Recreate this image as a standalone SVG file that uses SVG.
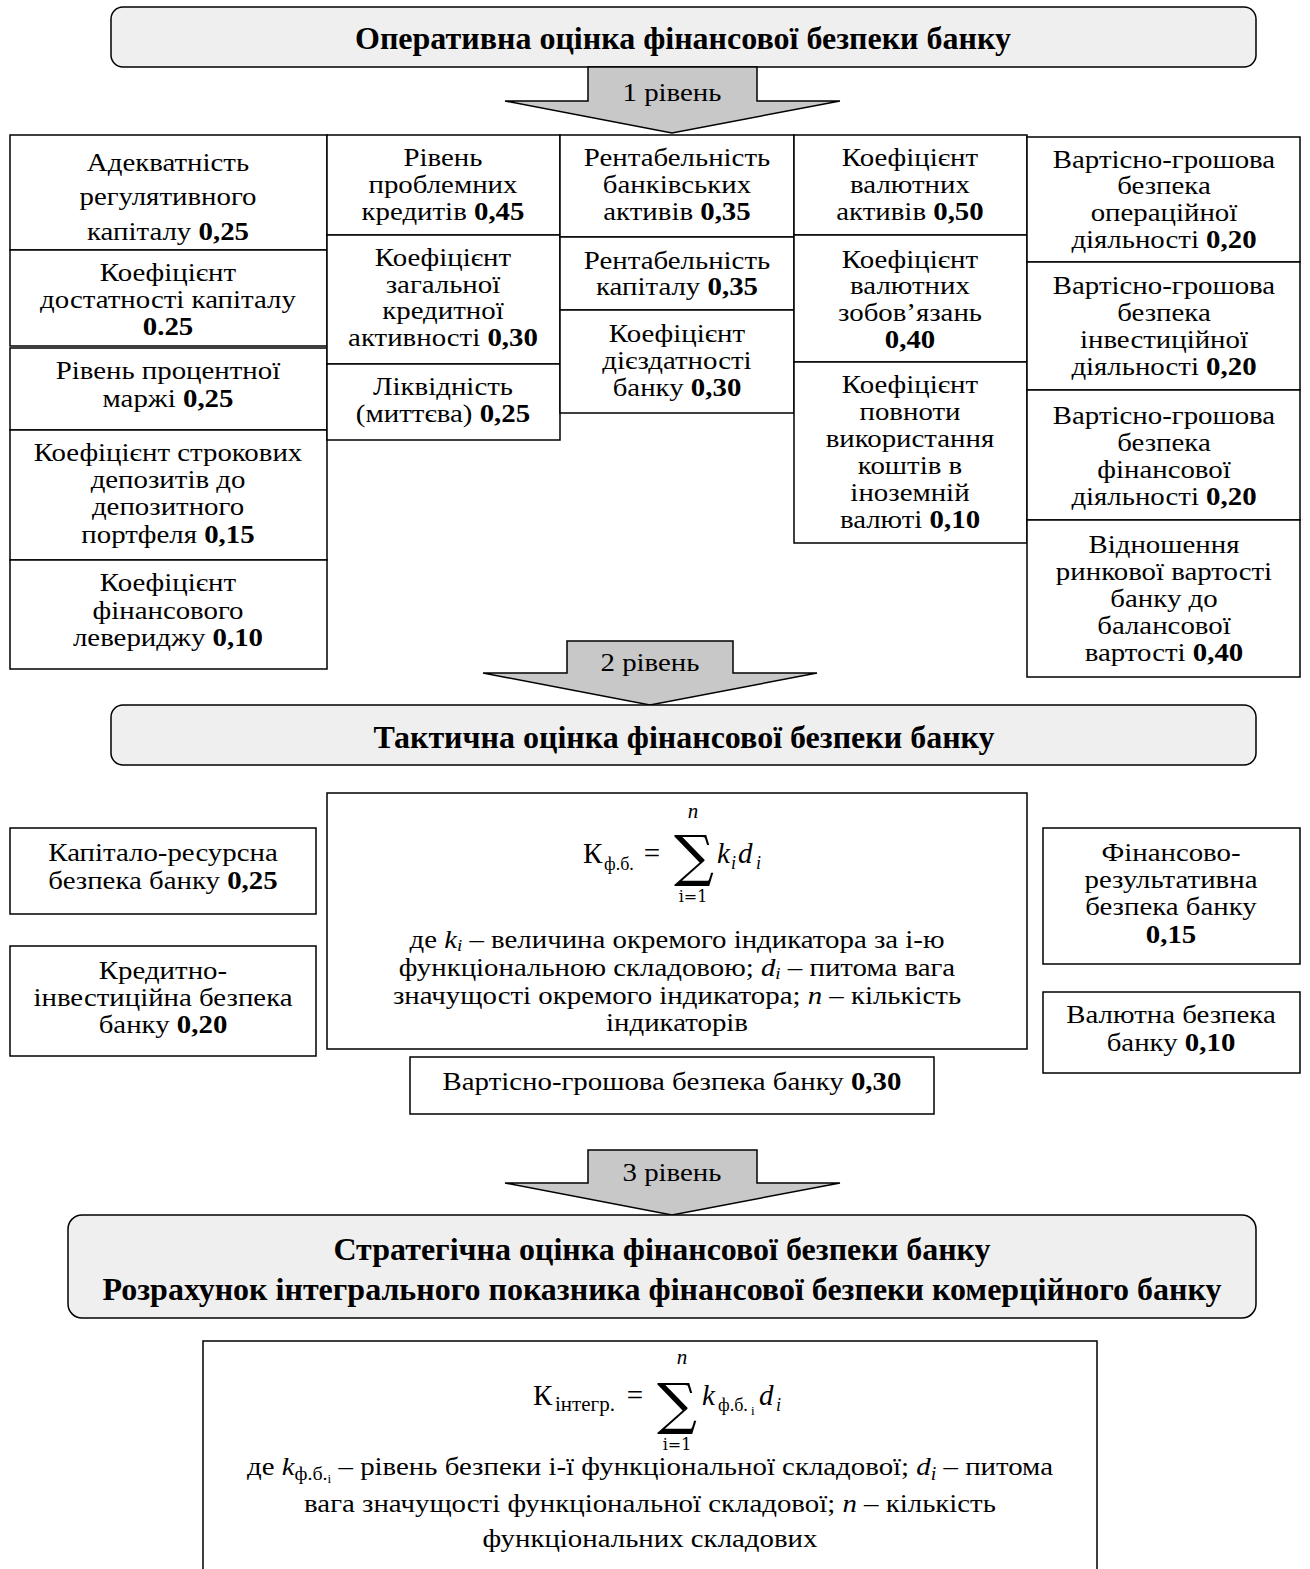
<svg xmlns="http://www.w3.org/2000/svg" width="1310" height="1569" viewBox="0 0 1310 1569">
<style>
text{font-family:"Liberation Serif","Times New Roman",serif;fill:#000;text-anchor:middle}
.t{font-size:26px;transform-box:fill-box;transform-origin:center;transform:scaleX(1.11)}
.f{font-size:29px}
.b{font-weight:bold}
.h{font-size:32px;font-weight:bold}
.box{fill:#fff;stroke:#000;stroke-width:1.5}
.rb{fill:#efefef;stroke:#000;stroke-width:1.5}
.ar{fill:#c8c8c8;stroke:#000;stroke-width:1.5}
.m{font-style:italic}
.s{font-size:18px}
.ss{font-size:17px}
.st{text-anchor:start}
.sig{font-family:"DejaVu Serif",serif;font-size:56px}
.sm{font-family:"DejaVu Serif",serif;font-size:16px}
</style>
<rect width="1310" height="1569" fill="#fff"/>

<g id="operational">
<rect class="rb" x="111" y="7" width="1145" height="60" rx="12"/>
<text class="h" x="683" y="49">Оперативна оцінка фінансової безпеки банку</text>
</g>

<g id="connectors">
<path class="ar" d="M588,67 L757,67 L757,101 L840,101 L672,133 L505,101 L588,101 Z"/>
<text class="t" x="672" y="101">1 рівень</text>
<path class="ar" d="M567,641 L733,641 L733,673 L817,673 L650,705 L483,673 L567,673 Z"/>
<text class="t" x="650" y="671">2 рівень</text>
<path class="ar" d="M588,1150 L757,1150 L757,1183 L840,1183 L672,1215 L505,1183 L588,1183 Z"/>
<text class="t" x="672" y="1181">3 рівень</text>
</g>

<!-- Column 1 -->
<g id="c1a"><rect class="box" x="10" y="135" width="317" height="115"/>
<text class="t" x="168" y="171">Адекватність</text><text class="t" x="168" y="205">регулятивного</text><text class="t" x="168" y="240">капіталу <tspan class="b">0,25</tspan></text></g>
<g id="c1b"><rect class="box" x="10" y="250" width="317" height="96"/>
<text class="t" x="168" y="281">Коефіцієнт</text><text class="t" x="168" y="308">достатності капіталу</text><text class="t b" x="168" y="335">0.25</text></g>
<g id="c1c"><rect class="box" x="10" y="348" width="317" height="82"/>
<text class="t" x="168" y="379">Рівень процентної</text><text class="t" x="168" y="407">маржі <tspan class="b">0,25</tspan></text></g>
<g id="c1d"><rect class="box" x="10" y="430" width="317" height="130"/>
<text class="t" x="168" y="461">Коефіцієнт строкових</text><text class="t" x="168" y="488">депозитів до</text><text class="t" x="168" y="515">депозитного</text><text class="t" x="168" y="543">портфеля <tspan class="b">0,15</tspan></text></g>
<g id="c1e"><rect class="box" x="10" y="560" width="317" height="109"/>
<text class="t" x="168" y="591">Коефіцієнт</text><text class="t" x="168" y="619">фінансового</text><text class="t" x="168" y="646">левериджу <tspan class="b">0,10</tspan></text></g>

<!-- Column 2 -->
<g id="c2a"><rect class="box" x="327" y="135" width="233" height="100"/>
<text class="t" x="443" y="166">Рівень</text><text class="t" x="443" y="193">проблемних</text><text class="t" x="443" y="220">кредитів <tspan class="b">0,45</tspan></text></g>
<g id="c2b"><rect class="box" x="327" y="235" width="233" height="129"/>
<text class="t" x="443" y="266">Коефіцієнт</text><text class="t" x="443" y="293">загальної</text><text class="t" x="443" y="319">кредитної</text><text class="t" x="443" y="346">активності <tspan class="b">0,30</tspan></text></g>
<g id="c2c"><rect class="box" x="327" y="364" width="233" height="76"/>
<text class="t" x="443" y="395">Ліквідність</text><text class="t" x="443" y="422">(миттєва) <tspan class="b">0,25</tspan></text></g>

<!-- Column 3 -->
<g id="c3a"><rect class="box" x="560" y="135" width="234" height="102"/>
<text class="t" x="677" y="166">Рентабельність</text><text class="t" x="677" y="193">банківських</text><text class="t" x="677" y="220">активів <tspan class="b">0,35</tspan></text></g>
<g id="c3b"><rect class="box" x="560" y="237" width="234" height="73"/>
<text class="t" x="677" y="269">Рентабельність</text><text class="t" x="677" y="295">капіталу  <tspan class="b">0,35</tspan></text></g>
<g id="c3c"><rect class="box" x="560" y="310" width="234" height="103"/>
<text class="t" x="677" y="342">Коефіцієнт</text><text class="t" x="677" y="369">дієздатності</text><text class="t" x="677" y="396">банку <tspan class="b">0,30</tspan></text></g>

<!-- Column 4 -->
<g id="c4a"><rect class="box" x="794" y="135" width="233" height="100"/>
<text class="t" x="910" y="166">Коефіцієнт</text><text class="t" x="910" y="193">валютних</text><text class="t" x="910" y="220">активів <tspan class="b">0,50</tspan></text></g>
<g id="c4b"><rect class="box" x="794" y="235" width="233" height="127"/>
<text class="t" x="910" y="268">Коефіцієнт</text><text class="t" x="910" y="294">валютних</text><text class="t" x="910" y="321">зобов’язань</text><text class="t b" x="910" y="348">0,40</text></g>
<g id="c4c"><rect class="box" x="794" y="362" width="233" height="181"/>
<text class="t" x="910" y="393">Коефіцієнт</text><text class="t" x="910" y="420">повноти</text><text class="t" x="910" y="447">використання</text><text class="t" x="910" y="474">коштів в</text><text class="t" x="910" y="501">іноземній</text><text class="t" x="910" y="528">валюті <tspan class="b">0,10</tspan></text></g>

<!-- Column 5 -->
<g id="c5a"><rect class="box" x="1027" y="137" width="273" height="125"/>
<text class="t" x="1164" y="168">Вартісно-грошова</text><text class="t" x="1164" y="194">безпека</text><text class="t" x="1164" y="221">операційної</text><text class="t" x="1164" y="248">діяльності <tspan class="b">0,20</tspan></text></g>
<g id="c5b"><rect class="box" x="1027" y="262" width="273" height="128"/>
<text class="t" x="1164" y="294">Вартісно-грошова</text><text class="t" x="1164" y="321">безпека</text><text class="t" x="1164" y="348">інвестиційної</text><text class="t" x="1164" y="375">діяльності <tspan class="b">0,20</tspan></text></g>
<g id="c5c"><rect class="box" x="1027" y="390" width="273" height="130"/>
<text class="t" x="1164" y="424">Вартісно-грошова</text><text class="t" x="1164" y="451">безпека</text><text class="t" x="1164" y="478">фінансової</text><text class="t" x="1164" y="505">діяльності <tspan class="b">0,20</tspan></text></g>
<g id="c5d"><rect class="box" x="1027" y="520" width="273" height="157"/>
<text class="t" x="1164" y="553">Відношення</text><text class="t" x="1164" y="580">ринкової вартості</text><text class="t" x="1164" y="607">банку до</text><text class="t" x="1164" y="634">балансової</text><text class="t" x="1164" y="661">вартості <tspan class="b">0,40</tspan></text></g>

<g id="tactical">
<rect class="rb" x="111" y="705" width="1145" height="60" rx="12"/>
<text class="h" x="684" y="748">Тактична оцінка фінансової безпеки банку</text>
</g>

<g id="formula1">
<rect class="box" x="327" y="793" width="700" height="256"/>
<text class="f st" x="583" y="863">К</text>
<text class="s st" x="604" y="870">ф.б.</text>
<text class="f" x="652" y="863">=</text>
<text class="sig" transform="translate(694,875)">∑</text>
<text class="m" style="font-size:21px" x="693" y="818">n</text>
<text class="sm" x="693" y="902">i=1</text>
<text class="f m st" x="717" y="863">k</text>
<text class="m s st" x="731" y="869">i</text>
<text class="f m st" x="738" y="863">d</text>
<text class="m s st" x="756" y="869">i</text>
<text class="t" x="677" y="948">де <tspan class="m">k</tspan><tspan class="m ss" dy="3">i</tspan><tspan dy="-3"> – величина окремого індикатора за і-ю</tspan></text>
<text class="t" x="677" y="976">функціональною складовою; <tspan class="m">d</tspan><tspan class="m ss" dy="3">i</tspan><tspan dy="-3"> – питома вага</tspan></text>
<text class="t" x="677" y="1004">значущості окремого індикатора; <tspan class="m">n</tspan> – кількість</text>
<text class="t" x="677" y="1031">індикаторів</text>
</g>

<g id="t1"><rect class="box" x="10" y="828" width="306" height="86"/>
<text class="t" x="163" y="861">Капітало-ресурсна</text><text class="t" x="163" y="889">безпека банку <tspan class="b">0,25</tspan></text></g>
<g id="t2"><rect class="box" x="10" y="946" width="306" height="110"/>
<text class="t" x="163" y="979">Кредитно-</text><text class="t" x="163" y="1006">інвестиційна безпека</text><text class="t" x="163" y="1033">банку <tspan class="b">0,20</tspan></text></g>
<g id="t3"><rect class="box" x="1043" y="828" width="257" height="136"/>
<text class="t" x="1171" y="861">Фінансово-</text><text class="t" x="1171" y="888">результативна</text><text class="t" x="1171" y="915">безпека банку</text><text class="t b" x="1171" y="943">0,15</text></g>
<g id="t4"><rect class="box" x="1043" y="992" width="257" height="81"/>
<text class="t" x="1171" y="1023">Валютна безпека</text><text class="t" x="1171" y="1051">банку <tspan class="b">0,10</tspan></text></g>
<g id="t5"><rect class="box" x="410" y="1057" width="524" height="57"/>
<text class="t" x="672" y="1090">Вартісно-грошова безпека банку <tspan class="b">0,30</tspan></text></g>

<g id="strategic">
<rect class="rb" x="68" y="1215" width="1188" height="103" rx="14"/>
<text class="h" x="662" y="1260">Стратегічна оцінка фінансової безпеки банку</text>
<text class="h" x="662" y="1300">Розрахунок інтегрального показника фінансової безпеки комерційного банку</text>
</g>

<g id="formula2">
<path class="box" d="M203,1569 L203,1341 L1097,1341 L1097,1569"/>
<text class="f st" x="533" y="1405">К</text>
<text class="st" style="font-size:21px" x="555" y="1411">інтегр.</text>
<text class="f" x="635" y="1405">=</text>
<text class="sig" transform="translate(677,1423)">∑</text>
<text class="m" style="font-size:21px" x="682" y="1364">n</text>
<text class="sm" x="677" y="1450">i=1</text>
<text class="f m st" x="702" y="1405">k</text>
<text class="s st" x="718" y="1411">ф.б.</text>
<text class="st" style="font-size:13px" x="751" y="1415">і</text>
<text class="f m st" x="759" y="1405">d</text>
<text class="m s st" x="776" y="1411">i</text>
<text class="t" x="650" y="1475">де <tspan class="m">k</tspan><tspan class="s" dy="5">ф.б.</tspan><tspan style="font-size:12px" dy="3">і</tspan><tspan dy="-8"> – рівень безпеки і-ї функціональної складової; </tspan><tspan class="m">d</tspan><tspan class="m s" dy="5">i</tspan><tspan dy="-5"> – питома</tspan></text>
<text class="t" x="650" y="1512">вага значущості функціональної складової; <tspan class="m">n</tspan> – кількість</text>
<text class="t" x="650" y="1547">функціональних складових</text>
</g>
</svg>
